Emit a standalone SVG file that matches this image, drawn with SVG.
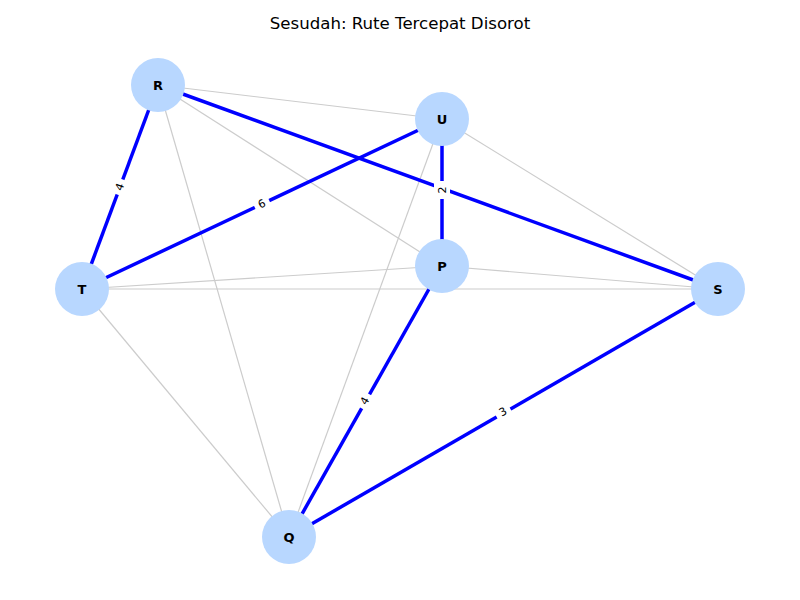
<svg xmlns="http://www.w3.org/2000/svg" width="800" height="600" viewBox="0 0 800 600">
<style>
.bg{fill:#fff}
.e{stroke:#cccccc;stroke-width:1.2;fill:none}
.h{stroke:#0000ff;stroke-width:3.5;fill:none}
.n circle{fill:#b8d7ff}
.n text{font-family:"DejaVu Sans",sans-serif;font-size:13px;font-weight:bold;text-anchor:middle;dominant-baseline:central;fill:#000}
.lb rect{fill:#fff}
.lb text{font-family:"DejaVu Sans",sans-serif;font-size:11px;text-anchor:middle;dominant-baseline:central;fill:#000}
.title{font-family:"DejaVu Sans",sans-serif;font-size:16.6px;text-anchor:middle;fill:#000}
</style>
<rect class="bg" x="0" y="0" width="800" height="600"/>
<text class="title" x="400" y="29">Sesudah: Rute Tercepat Disorot</text>
<g id="edges">
<line class="e" x1="158" y1="85" x2="442" y2="119"/>
<line class="e" x1="158" y1="85" x2="442" y2="266"/>
<line class="e" x1="158" y1="85" x2="289" y2="537"/>
<line class="e" x1="442" y1="119" x2="718" y2="289"/>
<line class="e" x1="442" y1="119" x2="289" y2="537"/>
<line class="e" x1="82" y1="289" x2="442" y2="266"/>
<line class="e" x1="82" y1="289" x2="718" y2="289"/>
<line class="e" x1="82" y1="289" x2="289" y2="537"/>
<line class="e" x1="442" y1="266" x2="718" y2="289"/>
<line class="h" x1="158" y1="85" x2="82" y2="289"/>
<line class="h" x1="158" y1="85" x2="718" y2="289"/>
<line class="h" x1="442" y1="119" x2="82" y2="289"/>
<line class="h" x1="442" y1="119" x2="442" y2="266"/>
<line class="h" x1="442" y1="266" x2="289" y2="537"/>
<line class="h" x1="289" y1="537" x2="718" y2="289"/>
</g>
<g id="labels">
<g class="lb" transform="translate(120,187) rotate(-69.6)"><rect x="-8" y="-8" width="16" height="16"/><text>4</text></g>
<g class="lb" transform="translate(262,204) rotate(-25.3)"><rect x="-8" y="-8" width="16" height="16"/><text>6</text></g>
<g class="lb" transform="translate(442,190) rotate(-90)"><rect x="-9" y="-8" width="18" height="16"/><text>2</text></g>
<g class="lb" transform="translate(365,401) rotate(-60.6)"><rect x="-8" y="-8" width="16" height="16"/><text>4</text></g>
<g class="lb" transform="translate(503,412) rotate(-30)"><rect x="-8" y="-8" width="16" height="16"/><text>3</text></g>
</g>
<g id="R" class="n"><circle cx="158" cy="85" r="27"/><text x="158" y="85">R</text></g>
<g id="U" class="n"><circle cx="442" cy="119" r="27"/><text x="442" y="119">U</text></g>
<g id="T" class="n"><circle cx="82" cy="289" r="27"/><text x="82" y="289">T</text></g>
<g id="P" class="n"><circle cx="442" cy="266" r="27"/><text x="442" y="266">P</text></g>
<g id="S" class="n"><circle cx="718" cy="289" r="27"/><text x="718" y="289">S</text></g>
<g id="Q" class="n"><circle cx="289" cy="537" r="27"/><text x="289" y="537">Q</text></g>
</svg>
